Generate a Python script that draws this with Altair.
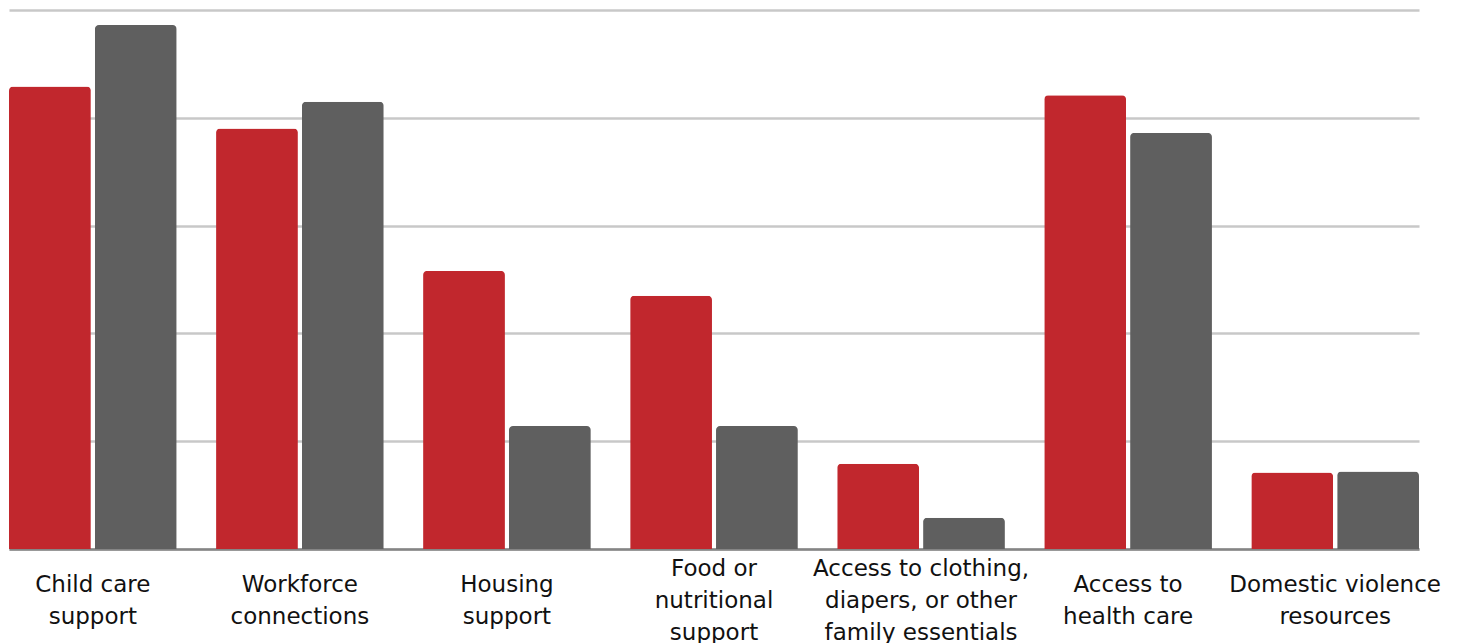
import altair as alt
import pandas as pd

categories = [
    "Child care|support",
    "Workforce|connections",
    "Housing|support",
    "Food or|nutritional|support",
    "Access to clothing,|diapers, or other|family essentials",
    "Access to|health care",
    "Domestic violence|resources",
]
series_names = ["Series 1", "Series 2"]
series1 = [42.9, 39.0, 25.8, 23.5, 7.9, 42.1, 7.1]
series2 = [48.6, 41.5, 11.4, 11.4, 2.9, 38.6, 7.2]
y_ticks = [0, 10, 20, 30, 40, 50]

rows = []
for c, a, b in zip(categories, series1, series2):
    rows.append({"category": c, "series": series_names[0], "value": a})
    rows.append({"category": c, "series": series_names[1], "value": b})
df = pd.DataFrame(rows)

chart = (
    alt.Chart(df)
    .mark_bar(cornerRadiusTopLeft=4, cornerRadiusTopRight=4)
    .encode(
        x=alt.X(
            "category:N",
            sort=categories,
            title=None,
            scale=alt.Scale(paddingInner=0.19, paddingOuter=0),
            axis=alt.Axis(
                labelExpr="split(datum.label, '|')",
                labelAngle=0,
                labelBaseline={
                    "condition": {
                        "test": "length(split(datum.value, '|')) > 2",
                        "value": "middle",
                    },
                    "value": "line-top",
                },
                labelAlign="center",
                labelPadding=19,
                labelFontSize=23,
                labelLineHeight=32,
                labelFont="DejaVu Sans",
                labelColor="#111111",
                ticks=False,
                domainColor="#858585",
                domainWidth=2.5,
                labelLimit=400,
            ),
        ),
        xOffset=alt.XOffset("series:N", sort=series_names, scale=alt.Scale(paddingInner=0.047)),
        y=alt.Y(
            "value:Q",
            title=None,
            scale=alt.Scale(domain=[0, 50], nice=False),
            axis=alt.Axis(
                values=y_ticks,
                labels=False,
                ticks=False,
                domain=False,
                grid=True,
                gridColor="#c8c8c8",
                gridWidth=2.5,
            ),
        ),
        color=alt.Color(
            "series:N",
            sort=series_names,
            scale=alt.Scale(domain=series_names, range=["#c1272d", "#5f5f5f"]),
            legend=None,
        ),
    )
    .properties(
        width=1410,
        height=539,
        autosize=alt.AutoSizeParams(type="none"),
        padding={"left": 9, "top": 10, "right": 42, "bottom": 94},
        background="white",
    )
    .configure_view(stroke=None)
)

chart.save("out.html", embed_options={"renderer": "svg", "actions": False})
